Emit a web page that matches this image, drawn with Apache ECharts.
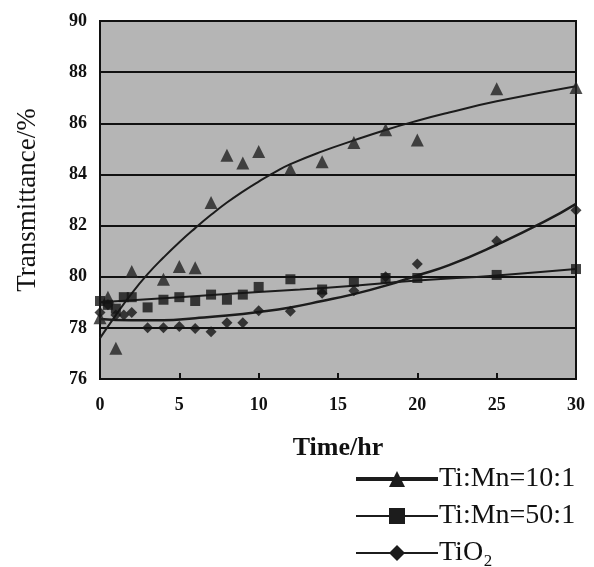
<!DOCTYPE html>
<html>
<head>
<meta charset="utf-8">
<script src="https://cdn.jsdelivr.net/npm/echarts@6/dist/echarts.min.js"></script>
<style>html,body{margin:0;padding:0;background:#fff;}#c{width:594px;height:567px;}</style>
</head>
<body>
<div id="c"></div>
<script>
// Measured points
var t10 = [0, 0.5, 1, 2, 4, 5, 6, 7, 8, 9, 10, 12, 14, 16, 18, 20, 25, 30];
var v10 = [78.4, 79.2, 77.2, 80.2, 79.9, 80.4, 80.35, 82.9, 84.75, 84.45, 84.9, 84.2, 84.5, 85.25, 85.75, 85.35, 87.35, 87.4];

var t50 = [0, 0.5, 1, 1.5, 2, 3, 4, 5, 6, 7, 8, 9, 10, 12, 14, 16, 18, 20, 25, 30];
var v50 = [79.05, 78.9, 78.75, 79.2, 79.2, 78.8, 79.1, 79.2, 79.05, 79.3, 79.1, 79.3, 79.6, 79.9, 79.5, 79.8, 79.95, 79.95, 80.07, 80.3];

var tTi = [0, 0.5, 1, 1.5, 2, 3, 4, 5, 6, 7, 8, 9, 10, 12, 14, 16, 18, 20, 25, 30];
var vTi = [78.6, 78.9, 78.5, 78.5, 78.6, 78.0, 78.0, 78.05, 77.97, 77.85, 78.2, 78.2, 78.67, 78.65, 79.35, 79.45, 80.0, 80.5, 81.4, 82.6];

// Trend curves
var tr10T = [0, 1, 2, 3, 4, 5, 6, 7, 8, 9, 10, 11, 12, 14, 16, 18, 20, 22, 25, 30];
var tr10V = [77.6, 78.5, 79.35, 80.1, 80.75, 81.35, 81.9, 82.42, 82.9, 83.33, 83.72, 84.08, 84.4, 84.9, 85.33, 85.74, 86.1, 86.42, 86.86, 87.45];

var tr50T = [0, 5, 10, 12.6, 16, 20, 25, 30];
var tr50V = [79.0, 79.2, 79.4, 79.5, 79.65, 79.85, 80.05, 80.3];

var trTiT = [0, 2, 4, 6, 8, 10, 12, 14, 16, 18, 20, 22, 25, 28, 30];
var trTiV = [78.35, 78.3, 78.3, 78.38, 78.48, 78.62, 78.8, 79.05, 79.32, 79.65, 80.05, 80.45, 81.25, 82.15, 82.85];

var names = ['Ti:Mn=10:1', 'Ti:Mn=50:1', 'TiO\u2082'];
var xTitle = 'Time/hr';
var yTitle = 'Transmittance/%';
var xTicks = [0, 5, 10, 15, 20, 25, 30];
var yTicks = [76, 78, 80, 82, 84, 86, 88, 90];

function pairs(a, b) { return a.map(function (x, i) { return [x, b[i]]; }); }

var dark = '#1c1c1c';
var serif = '"Liberation Serif", "Times New Roman", serif';

var chart = echarts.init(document.getElementById('c'));
chart.setOption({
  animation: false,
  backgroundColor: '#fff',
  title: {
    text: xTitle, left: 338, top: 435, textAlign: 'center', padding: 0,
    textStyle: { fontFamily: serif, fontSize: 26, fontWeight: 'bold', color: '#111' }
  },
  grid: { left: 100, top: 21, width: 476, height: 358, show: true, backgroundColor: '#b5b5b5', borderColor: '#111', borderWidth: 2 },
  xAxis: {
    type: 'value', min: 0, max: 30, interval: 5,
    axisLine: { show: true, lineStyle: { color: '#111', width: 2 } },
    axisTick: { show: true, inside: true, length: 6, lineStyle: { color: '#111', width: 2 } },
    axisLabel: { fontFamily: serif, fontSize: 18, fontWeight: 'bold', color: '#111', margin: 17,
      interval: 0, hideOverlap: false, showMinLabel: true, showMaxLabel: true,
      formatter: function (v) { return xTicks.indexOf(Math.round(v)) >= 0 ? String(Math.round(v)) : ''; } },
    splitLine: { show: false }
  },
  yAxis: {
    type: 'value', min: 76, max: 90, interval: 2,
    name: yTitle, nameLocation: 'middle', nameGap: 59,
    nameTextStyle: { fontFamily: serif, fontSize: 27, color: '#111' },
    axisLine: { show: true, lineStyle: { color: '#111', width: 2 } },
    axisTick: { show: false },
    axisLabel: { fontFamily: serif, fontSize: 18, fontWeight: 'bold', color: '#111', margin: 13,
      interval: 0, hideOverlap: false,
      formatter: function (v) { return yTicks.indexOf(Math.round(v)) >= 0 ? String(Math.round(v)) : ''; } },
    splitLine: { show: true, lineStyle: { color: '#111', width: 2 } }
  },
  legend: {
    orient: 'vertical', left: 354, top: 465, padding: 0, itemWidth: 82, itemHeight: 20, itemGap: 9,
    textStyle: { fontFamily: serif, fontSize: 28, color: '#111', padding: [0, 0, 0, -4] },
    data: [
      { name: names[0], lineStyle: { width: 4 } },
      { name: names[1], lineStyle: { width: 2 } },
      { name: names[2], lineStyle: { width: 2 } }
    ]
  },
  series: [
    { name: names[0], type: 'line', smooth: true, data: pairs(tr10T, tr10V), symbol: 'triangle', symbolSize: 16, showSymbol: false,
      itemStyle: { color: dark }, lineStyle: { color: dark, width: 2 }, z: 3 },
    { name: names[1], type: 'line', smooth: true, data: pairs(tr50T, tr50V), symbol: 'rect', symbolSize: 14, showSymbol: false,
      itemStyle: { color: dark }, lineStyle: { color: dark, width: 2 }, z: 3 },
    { name: names[2], type: 'line', smooth: true, data: pairs(trTiT, trTiV), symbol: 'diamond', symbolSize: 15, showSymbol: false,
      itemStyle: { color: dark }, lineStyle: { color: dark, width: 2.5 }, z: 3 },
    { name: 'p10', type: 'scatter', data: pairs(t10, v10), symbol: 'triangle', symbolSize: 13, itemStyle: { color: '#222' }, z: 4 },
    { name: 'p50', type: 'scatter', data: pairs(t50, v50), symbol: 'rect', symbolSize: 10, itemStyle: { color: '#141414' }, z: 4 },
    { name: 'pTi', type: 'scatter', data: pairs(tTi, vTi), symbol: 'diamond', symbolSize: 11, itemStyle: { color: '#141414' }, z: 4 }
  ]
});
</script>
</body>
</html>
